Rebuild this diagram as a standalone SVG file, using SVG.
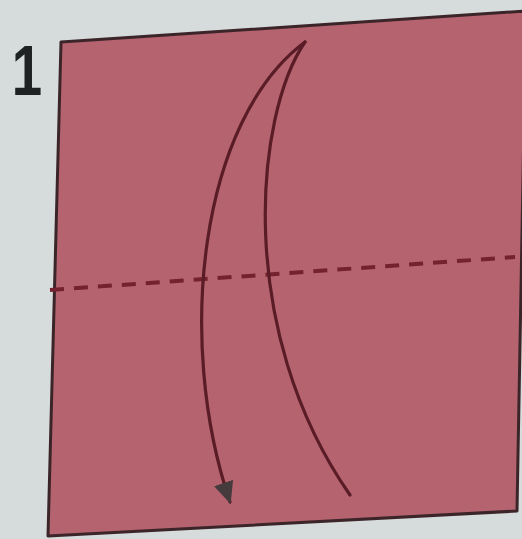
<svg xmlns="http://www.w3.org/2000/svg" width="522" height="539" viewBox="0 0 522 539">
  <defs>
    <style>
      .bg { fill: #d6dbdb; }
      .paper { fill: #b4636f; stroke: #3b2529; stroke-width: 3; stroke-linejoin: round; }
      .fold { fill: none; stroke: #74222f; stroke-width: 4; stroke-dasharray: 14 10; }
      .arrow { fill: none; stroke: #5a1d27; stroke-width: 3.2; stroke-linecap: round; }
      .step { font-family: "Liberation Sans", Arial, sans-serif; font-weight: bold; font-size: 70px; fill: #1e2222; }
    </style>
    <marker id="head" viewBox="0 0 22 22" refX="20" refY="11" markerWidth="22" markerHeight="22" markerUnits="userSpaceOnUse" orient="auto">
      <path d="M0,1 L22,11 L0,21 Z" fill="#453a3c"/>
    </marker>
  </defs>
  <rect class="bg" x="0" y="0" width="522" height="539"/>
  <g id="step-number">
    <text class="step" x="0" y="95" text-anchor="middle" transform="translate(27,0) scale(0.78,1)">1</text>
  </g>
  <g id="paper">
    <path class="paper" d="M61,42 L526,11 L517,511 L48,536 Z"/>
  </g>
  <g id="fold-line">
    <line class="fold" x1="50" y1="290" x2="515" y2="257"/>
  </g>
  <g id="connectors">
    <path class="arrow" d="M305,42 C200,120 175,340 230,502" marker-end="url(#head)"/>
    <path class="arrow" d="M305,42 C255,115 235,330 350,495"/>
  </g>
</svg>
